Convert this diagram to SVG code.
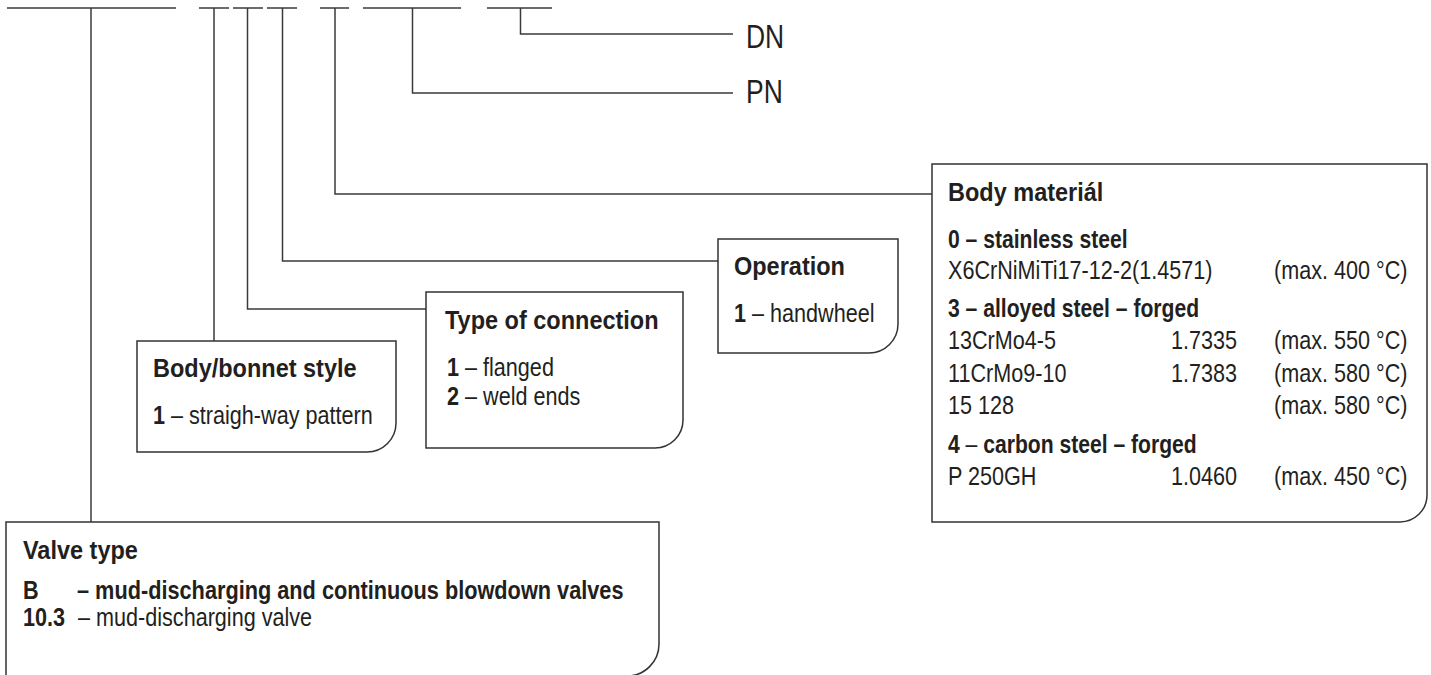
<svg xmlns="http://www.w3.org/2000/svg" width="1431" height="675" viewBox="0 0 1431 675">
<style>
.ln{stroke:#3a3a3a;stroke-width:1.5;fill:none}
.box{stroke:#333;stroke-width:1.5;fill:#fff}
text{font-family:"Liberation Sans",Arial,Helvetica,sans-serif;fill:#231f20}
.h{font-size:26px;font-weight:bold}
.t{font-size:25px}
.b{font-weight:bold}
.big{font-size:33.5px}
</style>
<rect width="1431" height="675" fill="#fff"/>
<g id="connectors" class="ln">
<path d="M7 8H176M199 8H229M233 8H263M267 8H297M320 8H349M363 8H461M487 8H552"/>
<path d="M91 8V522"/>
<path d="M214 8V341"/>
<path d="M247.5 8V309H426"/>
<path d="M282.5 8V261H718"/>
<path d="M335 8V194H932"/>
<path d="M412.5 8V93H733"/>
<path d="M520.5 8V34H733"/>
</g>
<g id="dn"><text class="big" transform="translate(746,48) scale(0.79,1)">DN</text></g>
<g id="pn"><text class="big" transform="translate(746,103) scale(0.79,1)">PN</text></g>
<g id="body-material">
<path class="box" d="M932 164H1427V495A27 27 0 0 1 1400 522H932Z"/>
<text class="h" transform="translate(948,201) scale(0.904,1)">Body materiál</text>
<text class="t b" transform="translate(948,248) scale(0.845,1)">0 – stainless steel</text>
<text class="t" transform="translate(948,279) scale(0.864,1)">X6CrNiMiTi17-12-2(1.4571)</text>
<text class="t" transform="translate(1274,279) scale(0.864,1)">(max. 400 °C)</text>
<text class="t b" transform="translate(948,317) scale(0.845,1)">3 – alloyed steel – forged</text>
<text class="t" transform="translate(948,349) scale(0.864,1)">13CrMo4-5</text>
<text class="t" transform="translate(1171,349) scale(0.864,1)">1.7335</text>
<text class="t" transform="translate(1274,349) scale(0.864,1)">(max. 550 °C)</text>
<text class="t" transform="translate(948,382) scale(0.864,1)">11CrMo9-10</text>
<text class="t" transform="translate(1171,382) scale(0.864,1)">1.7383</text>
<text class="t" transform="translate(1274,382) scale(0.864,1)">(max. 580 °C)</text>
<text class="t" transform="translate(948,414) scale(0.864,1)">15 128</text>
<text class="t" transform="translate(1274,414) scale(0.864,1)">(max. 580 °C)</text>
<text class="t" transform="translate(948,453) scale(0.845,1)"><tspan class="b">4</tspan> – <tspan class="b">carbon steel – forged</tspan></text>
<text class="t" transform="translate(948,485) scale(0.864,1)">P 250GH</text>
<text class="t" transform="translate(1171,485) scale(0.864,1)">1.0460</text>
<text class="t" transform="translate(1274,485) scale(0.864,1)">(max. 450 °C)</text>
</g>
<g id="operation">
<path class="box" d="M718 239H898V324A29 29 0 0 1 869 353H718Z"/>
<text class="h" transform="translate(734,275) scale(0.904,1)">Operation</text>
<text class="t" transform="translate(734,322) scale(0.864,1)"><tspan class="b">1</tspan> – handwheel</text>
</g>
<g id="type-of-connection">
<path class="box" d="M426 292H683V420A28 28 0 0 1 655 448H426Z"/>
<text class="h" transform="translate(445,329) scale(0.904,1)">Type of connection</text>
<text class="t" transform="translate(447,376) scale(0.864,1)"><tspan class="b">1</tspan> – flanged</text>
<text class="t" transform="translate(447,405) scale(0.864,1)"><tspan class="b">2</tspan> – weld ends</text>
</g>
<g id="body-bonnet-style">
<path class="box" d="M137 341H396V423A29 29 0 0 1 367 452H137Z"/>
<text class="h" transform="translate(153,377) scale(0.904,1)">Body/bonnet style</text>
<text class="t" transform="translate(153,424) scale(0.864,1)"><tspan class="b">1</tspan> – straigh-way pattern</text>
</g>
<g id="valve-type">
<path class="box" d="M6 522H659V644A32 32 0 0 1 627 676H6Z"/>
<text class="h" transform="translate(23,559) scale(0.904,1)">Valve type</text>
<text class="t b" transform="translate(23,599) scale(0.864,1)">B</text>
<text class="t b" transform="translate(77,599) scale(0.869,1)">– mud-discharging and continuous blowdown valves</text>
<text class="t b" transform="translate(23,626) scale(0.864,1)">10.3</text>
<text class="t" transform="translate(78,626) scale(0.864,1)">– mud-discharging valve</text>
</g>
</svg>
